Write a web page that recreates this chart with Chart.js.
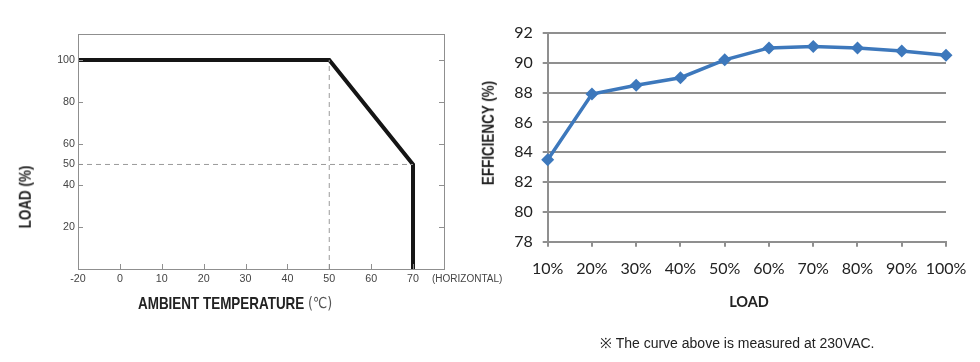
<!DOCTYPE html>
<html><head><meta charset="utf-8">
<script src="https://cdn.jsdelivr.net/npm/chart.js@4/dist/chart.umd.min.js"></script>
<style>
html,body{margin:0;padding:0;background:#fff;width:980px;height:362px;overflow:hidden;position:relative}
canvas{position:absolute;top:0}
.t{position:absolute;white-space:nowrap;color:#222}
.nb{font-family:"Liberation Sans",Arial,sans-serif;font-weight:bold;font-size:16.4px;line-height:1}
.rot{transform:translate(-50%,-50%) rotate(-90deg) scaleX(0.82)}
.nx{transform:scaleX(0.82);transform-origin:0 50%}
</style></head><body>
<canvas id="c1" width="520" height="362" style="left:0;width:520px;height:362px"></canvas>
<canvas id="c2" width="520" height="362" style="left:460px;width:520px;height:362px"></canvas>
<div class="t nb rot" style="left:25px;top:197px">LOAD (%)</div>
<div class="t nb nx" style="left:138px;top:295px">AMBIENT TEMPERATURE</div>
<div class="t" style="left:308px;top:296px;font-family:'DejaVu Sans',sans-serif;font-size:15px;line-height:1;color:#555;transform:scaleX(0.85);transform-origin:0 50%">(℃)</div>
<div class="t" style="left:432px;top:273px;font-family:'Liberation Sans',sans-serif;font-size:10px;color:#444">(HORIZONTAL)</div>
<div class="t nb rot" style="left:488px;top:133px">EFFICIENCY (%)</div>
<div class="t" style="left:749px;top:301px;transform:translate(-50%,-50%);font-family:Lato,sans-serif;font-weight:bold;font-size:14.5px">LOAD</div>
<div class="t" style="left:600px;top:333px;font-family:'Liberation Sans',sans-serif;font-size:14px">※ The curve above is measured at 230VAC.</div>
<script>
// ---- Derating curve data ----
const deratingTemps = [-20, 50, 70, 70];
const deratingLoads = [100, 100, 50, 0];
const refLineLoadTemps = [-20, 70];
const refLineLoadValues = [50, 50];
const refLineTempTemps = [50, 50];
const refLineTempValues = [0, 100];
const tempTicks = [-20, 0, 10, 20, 30, 40, 50, 60, 70];
const loadTicks = [20, 40, 50, 60, 80, 100];

// ---- Efficiency data ----
const effLoads = [10, 20, 30, 40, 50, 60, 70, 80, 90, 100];
const effValues = [83.5, 87.9, 88.5, 89.0, 90.2, 91.0, 91.1, 91.0, 90.8, 90.5];
const effTicks = [78, 80, 82, 84, 86, 88, 90, 92];

// broken temperature axis: -20..0 is compressed to the width of 10 degrees
const axisPos = t => t < 0 ? t / 2 : t;
const axisLabel = p => p < 0 ? String(p * 2) : String(p);
const pts = (xs, ys) => xs.map((x, i) => ({x: axisPos(x), y: ys[i]}));

const gray = '#8f8f8f';
const innerTicks = {
  id: 'innerTicks',
  afterDraw(chart) {
    const {ctx, chartArea: a, scales: {x, y}} = chart;
    ctx.save();
    ctx.strokeStyle = gray; ctx.lineWidth = 1;
    ctx.beginPath();
    tempTicks.slice(1).forEach(t => {
      const px = Math.round(x.getPixelForValue(axisPos(t))) + 0.5;
      ctx.moveTo(px, a.bottom); ctx.lineTo(px, a.bottom - 5);
    });
    loadTicks.forEach(v => {
      const py = Math.round(y.getPixelForValue(v)) + 0.5;
      ctx.moveTo(a.left, py); ctx.lineTo(a.left + 5, py);
      if (v !== 50) { ctx.moveTo(a.right, py); ctx.lineTo(a.right - 5, py); }
    });
    ctx.stroke();
    ctx.strokeRect(Math.round(a.left) + 0.5, Math.round(a.top) + 0.5, Math.round(a.right - a.left), Math.round(a.bottom - a.top));
    ctx.restore();
  }
};

new Chart(document.getElementById('c1'), {
  type: 'scatter',
  data: {
    datasets: [
      {data: pts(refLineLoadTemps, refLineLoadValues), showLine: true, borderColor: '#9a9a9a', borderWidth: 1, borderDash: [5, 4], pointRadius: 0},
      {data: pts(refLineTempTemps, refLineTempValues), showLine: true, borderColor: '#9a9a9a', borderWidth: 1, borderDash: [5, 4], pointRadius: 0},
      {data: pts(deratingTemps, deratingLoads), showLine: true, borderColor: '#151515', borderWidth: 4, pointRadius: 0, borderJoinStyle: 'miter'}
    ]
  },
  options: {
    responsive: false, animation: false, devicePixelRatio: 1,
    layout: {padding: {left: 0, right: 76, top: 34, bottom: 0}},
    plugins: {legend: {display: false}, tooltip: {enabled: false}},
    scales: {
      x: {
        type: 'linear', min: -10, max: 77.4,
        afterBuildTicks: s => { s.ticks = tempTicks.map(t => ({value: axisPos(t)})); },
        afterFit: s => { s.height = 93; },
        grid: {display: false, drawTicks: false},
        border: {display: false},
        ticks: {padding: 4, color: '#444', font: {family: 'Liberation Sans', size: 10.7}, callback: v => axisLabel(v), maxRotation: 0, autoSkip: false}
      },
      y: {
        min: 0, max: 112.4,
        afterBuildTicks: s => { s.ticks = loadTicks.map(v => ({value: v})); },
        afterFit: s => { s.width = 78; },
        grid: {display: false, drawTicks: false},
        border: {display: false},
        ticks: {padding: 3, color: '#444', font: {family: 'Liberation Sans', size: 10.7}, autoSkip: false}
      }
    }
  },
  plugins: [innerTicks]
});

new Chart(document.getElementById('c2'), {
  type: 'scatter',
  data: {
    datasets: [{
      data: effLoads.map((x, i) => ({x, y: effValues[i]})),
      showLine: true, borderColor: '#3d78bc', backgroundColor: '#3d78bc', borderWidth: 3.5,
      pointStyle: 'rectRot', pointRadius: 6.5, pointBorderWidth: 0, clip: false
    }]
  },
  options: {
    responsive: false, animation: false, devicePixelRatio: 1,
    layout: {padding: {left: 0, right: 34, top: 33, bottom: 0}},
    plugins: {legend: {display: false}, tooltip: {enabled: false}},
    scales: {
      x: {
        type: 'linear', min: 10, max: 100,
        afterBuildTicks: s => { s.ticks = effLoads.map(v => ({value: v})); },
        afterFit: s => { s.height = 120.3; },
        grid: {drawOnChartArea: false, drawTicks: true, tickLength: 5, color: gray, lineWidth: 2},
        border: {display: true, color: gray, width: 2},
        ticks: {padding: 13, color: '#222', font: {family: 'Lato', size: 16}, callback: v => v + '%', maxRotation: 0, autoSkip: false}
      },
      y: {
        min: 78, max: 92,
        afterBuildTicks: s => { s.ticks = effTicks.map(v => ({value: v})); },
        afterFit: s => { s.width = 87.7; },
        grid: {color: gray, lineWidth: 2, drawTicks: true, tickLength: 5},
        border: {display: true, color: gray, width: 2},
        ticks: {padding: 10, color: '#222', font: {family: 'Lato', size: 16}, autoSkip: false}
      }
    }
  }
});
</script>
</body></html>
